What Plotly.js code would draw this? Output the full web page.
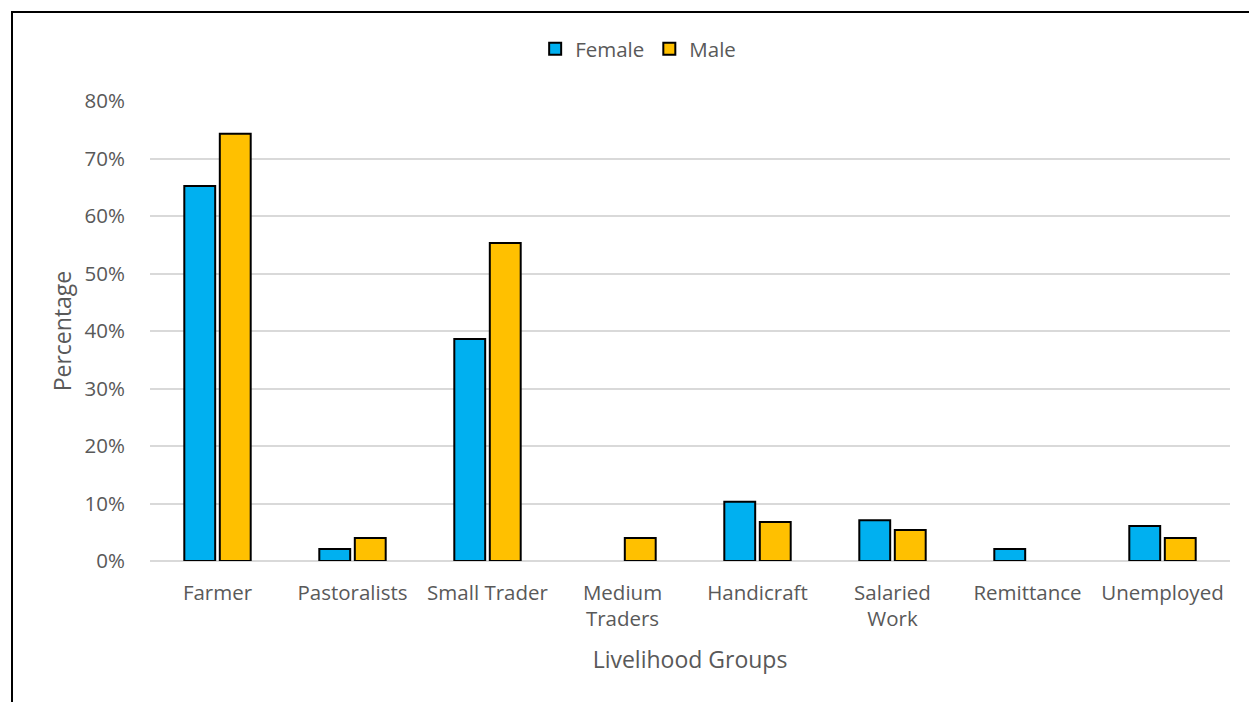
<!DOCTYPE html>
<html>
<head>
<meta charset="utf-8">
<script src="https://cdn.plot.ly/plotly-3.0.1.min.js"></script>
<style>
  html, body { margin: 0; padding: 0; background: #fff; overflow: hidden; }
  #chart { width: 1249px; height: 702px; }
  #frame { position: absolute; left: 11px; top: 11px; width: 1300px; height: 800px;
           border-left: 2px solid #000; border-top: 2px solid #000; pointer-events: none; }
</style>
</head>
<body>
<div id="chart"></div>
<div id="frame"></div>
<script>
const categories = ["Farmer", "Pastoralists", "Small Trader", "Medium<br>Traders", "Handicraft", "Salaried<br>Work", "Remittance", "Unemployed"];
const female = [0.652, 0.021, 0.386, null, 0.103, 0.071, 0.021, 0.061];
const male = [0.743, 0.040, 0.553, 0.040, 0.068, 0.054, null, 0.040];
const yTicks = [0, 0.1, 0.2, 0.3, 0.4, 0.5, 0.6, 0.7, 0.8];

const font = "'Open Sans', sans-serif";
const gray = "#595959";

const traces = [
  { type: "bar", name: "Female", x: categories, y: female,
    marker: { color: "#00B0F0", line: { color: "#000", width: 2 } } },
  { type: "bar", name: "Male", x: categories, y: male,
    marker: { color: "#FFC000", line: { color: "#000", width: 2 } } }
];

const layout = {
  width: 1249, height: 702,
  margin: { l: 150, r: 19, t: 101, b: 141 },
  paper_bgcolor: "#fff", plot_bgcolor: "#fff",
  font: { family: font, color: gray, size: 20.5 },
  barmode: "group", bargap: 0.474, bargroupgap: 0.13,
  showlegend: true,
  legend: { orientation: "h", x: 0.452, xanchor: "center", y: 1.113, yanchor: "middle",
            font: { size: 20.5, color: gray }, traceorder: "normal" },
  xaxis: { type: "category", showgrid: false, zeroline: false, showline: false,
           ticks: "outside", ticklen: 13, tickcolor: "rgba(0,0,0,0)", tickfont: { size: 20.5, color: gray },
           title: { text: "Livelihood Groups", font: { size: 23, color: gray }, standoff: 20 } },
  yaxis: { range: [0, 0.8], tickvals: yTicks, tickformat: ".0%", showgrid: true,
           gridcolor: "#d9d9d9", gridwidth: 2, zeroline: true, zerolinecolor: "#d9d9d9", zerolinewidth: 2,
           showline: false, ticks: "outside", ticklen: 20, tickcolor: "rgba(0,0,0,0)", tickfont: { size: 20.5, color: gray },
           title: { text: "Percentage", font: { size: 23, color: gray }, standoff: 6 } }
};

Plotly.newPlot("chart", traces, layout, { displayModeBar: false, staticPlot: true });
</script>
</body>
</html>
